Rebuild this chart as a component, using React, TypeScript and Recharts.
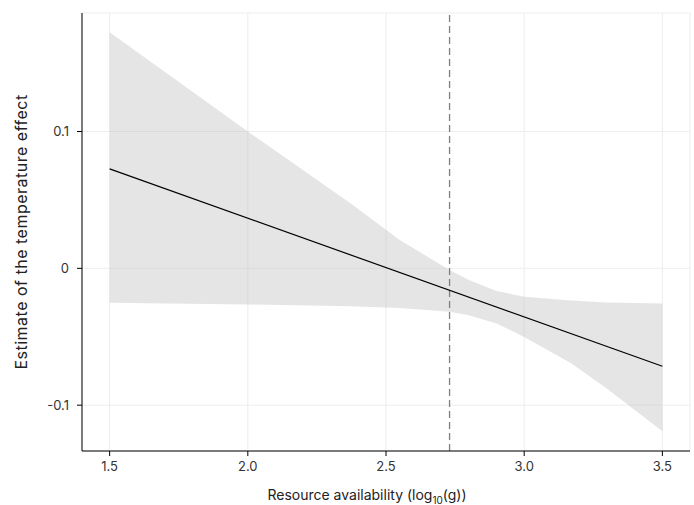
import React from "react";
import {
  ComposedChart,
  Area,
  Line,
  XAxis,
  YAxis,
  CartesianGrid,
  ReferenceLine,
} from "recharts";

// Confidence band (lower / upper) sampled along resource availability
const bandX = [1.5, 2.0, 2.37, 2.55, 2.73, 2.8, 2.9, 3.0, 3.17, 3.3, 3.5];
const bandUpper = [0.1725, 0.1, 0.0477, 0.0207, -0.0012, -0.0086, -0.0166, -0.0208, -0.0235, -0.0249, -0.0257];
const bandLower = [-0.0252, -0.0264, -0.0277, -0.029, -0.0318, -0.0342, -0.0403, -0.0501, -0.0694, -0.088, -0.119];

// Fitted estimate line
const lineX = [1.5, 3.5];
const lineY = [0.0727, -0.0716];

// Threshold marker
const thresholdX = 2.73;

// Axis ticks
const xTicks = [1.5, 2.0, 2.5, 3.0, 3.5];
const yTicks = [-0.1, 0, 0.1];

const bandData = bandX.map((x, i) => ({ x, range: [bandLower[i], bandUpper[i]] }));
const lineData = lineX.map((x, i) => ({ x, est: lineY[i] }));

const FONT = "Inter, 'DejaVu Sans', sans-serif";

const XLabel = () => (
  <text x={367} y={500} textAnchor="middle" fontFamily={FONT} fontSize={14} fill="#222">
    <tspan>Resource availability (log</tspan>
    <tspan fontSize={10} dy={4}>10</tspan>
    <tspan dy={-4}>(g))</tspan>
  </text>
);

const YLabel = () => (
  <text
    x={27}
    y={232}
    textAnchor="middle"
    fontFamily={FONT}
    fontSize={16}
    letterSpacing={0.5}
    fill="#222"
    transform="rotate(-90, 27, 232)"
  >
    Estimate of the temperature effect
  </text>
);

export default function App() {
  return (
    <div style={{ position: "absolute", left: 0, top: 0, width: 694, height: 505, background: "#fff" }}>
      <ComposedChart width={694} height={505} margin={{ top: 13, right: 4, left: 0, bottom: 0 }}>
        <CartesianGrid stroke="#ededed" strokeWidth={1} />
        <XAxis
          dataKey="x"
          type="number"
          domain={[1.4, 3.6]}
          ticks={xTicks}
          tickFormatter={(v: number) => v.toFixed(1)}
          height={54}
          axisLine={{ stroke: "#000", strokeWidth: 1 }}
          tickLine={{ stroke: "#000", strokeWidth: 1 }}
          tickSize={5}
          tickMargin={6}
          tick={{ fontFamily: FONT, fontSize: 13, fill: "#333" }}
          allowDataOverflow
          label={<XLabel />}
        />
        <YAxis
          type="number"
          domain={[-0.1335, 0.1866]}
          ticks={yTicks}
          tickFormatter={(v: number) => (v === 0 ? "0" : String(v))}
          width={82}
          axisLine={{ stroke: "#000", strokeWidth: 1 }}
          tickLine={{ stroke: "#000", strokeWidth: 1 }}
          tickSize={5}
          tickMargin={8}
          tick={{ fontFamily: FONT, fontSize: 13, fill: "#333" }}
          allowDataOverflow
          label={<YLabel />}
        />
        <Area
          data={bandData}
          dataKey="range"
          type="linear"
          stroke="none"
          fill="#bfbfbf"
          fillOpacity={0.4}
          isAnimationActive={false}
          activeDot={false}
        />
        <ReferenceLine x={thresholdX} stroke="#7f7f7f" strokeWidth={1.3} strokeDasharray="7 4" />
        <Line
          data={lineData}
          dataKey="est"
          type="linear"
          stroke="#000"
          strokeWidth={1.2}
          dot={false}
          activeDot={false}
          isAnimationActive={false}
        />
      </ComposedChart>
    </div>
  );
}
